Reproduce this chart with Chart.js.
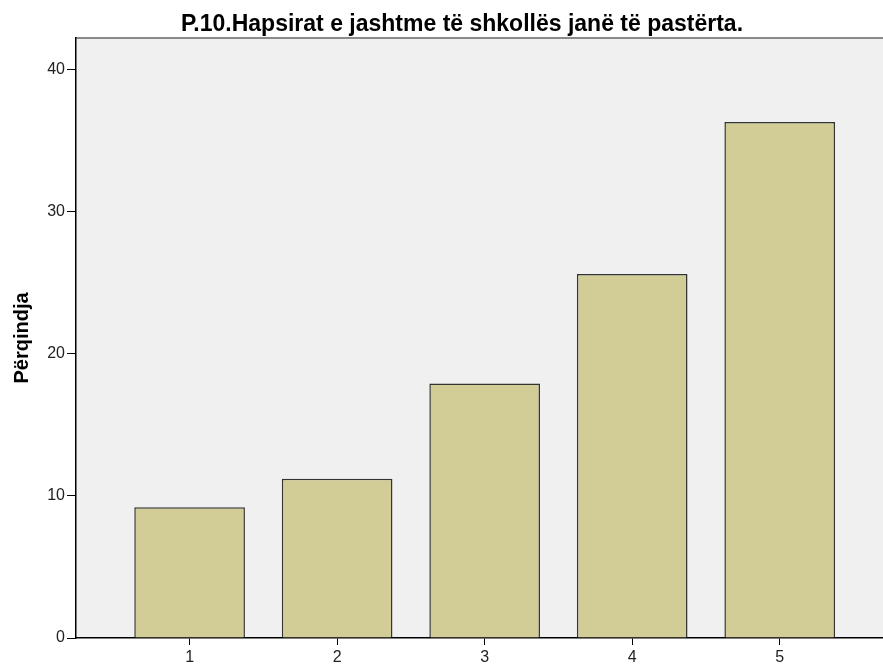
<!DOCTYPE html>
<html>
<head>
<meta charset="utf-8">
<script src="https://cdn.jsdelivr.net/npm/chart.js@4"></script>
<style>
  html, body { margin: 0; padding: 0; background: #fff; }
  #wrap { width: 883px; height: 668px; }
</style>
</head>
<body>
<div id="wrap"><canvas id="barChart" width="883" height="668"></canvas></div>
<script>
// chart data
const categories = ['1', '2', '3', '4', '5'];
const percentValues = [9.2, 11.2, 17.9, 25.6, 36.3];
const yTicks = [0, 10, 20, 30, 40];

const chartTitle = 'P.10.Hapsirat e jashtme të shkollës janë të pastërta.';
const yTitle = 'Përqindja';

const FONT = '"Liberation Sans", Arial, sans-serif';

// grey plot background + top border, and the title
const frame = {
    id: 'frame',
    beforeDraw(chart) {
        const { ctx, chartArea: a } = chart;
        ctx.save();
        ctx.fillStyle = '#f0f0f0';
        ctx.fillRect(a.left, a.top, a.right - a.left, a.bottom - a.top);
        ctx.strokeStyle = '#8a8a8a';
        ctx.lineWidth = 2;
        ctx.beginPath();
        ctx.moveTo(a.left, a.top);
        ctx.lineTo(a.right, a.top);
        ctx.stroke();
        ctx.restore();
    },
    afterDraw(chart) {
        const ctx = chart.ctx;
        ctx.save();
        ctx.fillStyle = '#000';
        ctx.font = 'bold 23px ' + FONT;
        ctx.textAlign = 'center';
        ctx.textBaseline = 'alphabetic';
        ctx.fillText(chartTitle, 462, 31);
        ctx.restore();
    }
};

new Chart(document.getElementById('barChart').getContext('2d'), {

    type: 'bar',

    data: {
        datasets: [{
            data: percentValues.map((v, i) => ({ x: i + 1, y: v })),
            backgroundColor: '#d2cd96',
            borderColor: '#333333',
            borderWidth: 1.5,
            categoryPercentage: 1,
            barPercentage: 0.75
        }]
    },

    options: {
        responsive: false,
        animation: false,
        layout: { padding: { top: 38, right: 0, left: 0, bottom: 0 } },

        scales: {
            x: {
                type: 'linear',
                min: 0.23,
                max: 5.7,
                offset: false,
                afterBuildTicks(scale) {
                    scale.ticks = categories.map((c, i) => ({ value: i + 1 }));
                },
                afterFit(scale) { scale.height = 30; },
                ticks: {
                    color: '#222',
                    padding: 3,
                    font: { family: FONT, size: 16 },
                    callback: (v) => categories[v - 1]
                },
                grid: {
                    display: true,
                    offset: false,
                    drawOnChartArea: false,
                    drawTicks: true,
                    tickLength: 7,
                    color: '#000'
                },
                border: { display: true, color: '#000', width: 1.5 }
            },

            y: {
                min: 0,
                max: 42.2,
                afterBuildTicks(scale) {
                    scale.ticks = yTicks.map(v => ({ value: v }));
                },
                afterFit(scale) { scale.width = 76; },
                ticks: {
                    color: '#222',
                    padding: 2,
                    font: { family: FONT, size: 16 }
                },
                grid: {
                    display: true,
                    drawOnChartArea: false,
                    drawTicks: true,
                    tickLength: 9,
                    color: '#000'
                },
                border: { display: true, color: '#000', width: 1.5 },
                title: {
                    display: true,
                    text: yTitle,
                    color: '#000',
                    padding: { top: 10, bottom: 0 },
                    font: { family: FONT, size: 20, weight: 'bold' }
                }
            }
        },

        plugins: {
            legend: { display: false },
            tooltip: { enabled: false }
        }
    },

    plugins: [frame]
});
</script>
</body>
</html>
